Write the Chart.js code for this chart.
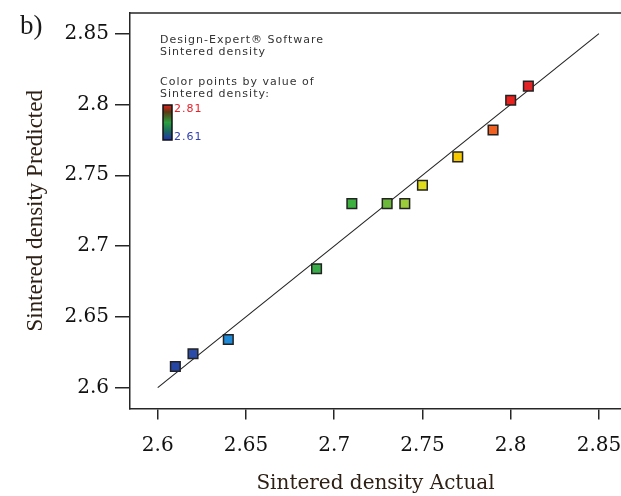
<!DOCTYPE html>
<html lang="en">
<head>
  <meta charset="UTF-8">
  <title>Sintered density - Predicted vs Actual</title>
  <script src="https://cdn.jsdelivr.net/npm/chart.js"></script>
  <style>
    html, body { margin: 0; padding: 0; background: #fff; }
    #wrap { width: 621px; height: 496px; position: relative; }
  </style>
</head>
<body>
  <div id="wrap"><canvas id="predChart"></canvas></div>

  <script>
    // data
    const actual    = [2.61, 2.62, 2.64, 2.69, 2.71, 2.73, 2.74, 2.75, 2.77, 2.79, 2.80, 2.81];
    const predicted = [2.615, 2.624, 2.634, 2.684, 2.730, 2.730, 2.730, 2.743, 2.763, 2.782, 2.803, 2.813];
    const pointColors = ['#2646a6', '#2a4ca8', '#1e8ad8', '#3aad4a', '#3db040', '#6cb83a',
                         '#9ccc3a', '#e0dc1c', '#f5c800', '#f06020', '#e8201e', '#e02428'];
    const fitLine = [2.6, 2.85];
    const xTicks = [2.6, 2.65, 2.7, 2.75, 2.8, 2.85];
    const yTicks = [2.6, 2.65, 2.7, 2.75, 2.8, 2.85];
    const legendLines = ['Design-Expert\u00AE Software', 'Sintered density', 'Color points by value of', 'Sintered density:'];
    const colorRange = [2.81, 2.61];

    const tickFont = { family: '"DejaVu Serif"', size: 20 };
    const axisColor = '#262626';

    // top frame line, "b)" label and the Design-Expert colour legend
    const decorPlugin = {
      id: 'decor',
      afterDraw(chart) {
        const { ctx, chartArea: a } = chart;
        ctx.save();
        ctx.strokeStyle = axisColor;
        ctx.lineWidth = 1.5;
        ctx.beginPath();
        ctx.moveTo(a.left, a.top);
        ctx.lineTo(a.right + 2, a.top);
        ctx.stroke();

        ctx.fillStyle = '#1a1a1a';
        ctx.font = '27px "Liberation Serif"';
        ctx.textBaseline = 'alphabetic';
        ctx.fillText('b)', 20, 34);

        ctx.font = '11px "DejaVu Sans"';
        ctx.letterSpacing = '1px';
        ctx.fillStyle = '#333';
        const lineY = [43, 55, 85, 97];
        legendLines.forEach((t, i) => ctx.fillText(t, 160, lineY[i]));

        // colour bar
        const bx = 163, by = 105, bw = 9, bh = 35;
        const g = ctx.createLinearGradient(0, by, 0, by + bh);
        g.addColorStop(0, '#e8201e');
        g.addColorStop(0.2, '#5a3a14');
        g.addColorStop(0.5, '#2aa040');
        g.addColorStop(0.75, '#1a6a60');
        g.addColorStop(1, '#2030b0');
        ctx.fillStyle = g;
        ctx.fillRect(bx, by, bw, bh);
        ctx.strokeStyle = '#111';
        ctx.lineWidth = 1.5;
        ctx.strokeRect(bx, by, bw, bh);

        ctx.fillStyle = '#e8202a';
        ctx.fillText(colorRange[0].toFixed(2), 174, 112);
        ctx.fillStyle = '#3040b0';
        ctx.fillText(colorRange[1].toFixed(2), 174, 140);
        ctx.restore();
      }
    };

    const ctx = document.getElementById('predChart').getContext('2d');
    new Chart(ctx, {
      type: 'scatter',
      data: {
        datasets: [
          {
            label: 'Sintered density',
            data: actual.map((x, i) => ({ x: x, y: predicted[i] })),
            pointStyle: 'rect',
            pointRadius: 6.8,
            pointHoverRadius: 6.8,
            pointBackgroundColor: pointColors,
            pointBorderColor: '#222',
            pointBorderWidth: 1.5,
            order: 0
          },
          {
            label: 'fit',
            type: 'line',
            data: fitLine.map(v => ({ x: v, y: v })),
            borderColor: '#222',
            borderWidth: 1.1,
            pointRadius: 0,
            fill: false,
            order: 1
          }
        ]
      },
      options: {
        responsive: true,
        maintainAspectRatio: false,
        animation: false,
        layout: { autoPadding: false, padding: { top: 13, right: 0, left: 0, bottom: 0 } },
        plugins: {
          legend: { display: false },
          tooltip: { enabled: false }
        },
        scales: {
          x: {
            type: 'linear',
            min: 2.5843,
            max: 2.8625,
            afterBuildTicks: s => { s.ticks = xTicks.map(v => ({ value: v })); },
            afterFit: s => { s.height = 87.5; s.paddingLeft = 0; s.paddingRight = 0; },
            ticks: {
              font: tickFont,
              color: '#111',
              padding: 14,
              maxRotation: 0,
              callback: v => String(+v.toFixed(2))
            },
            grid: { drawOnChartArea: false, drawTicks: true, tickLength: 11, color: axisColor, lineWidth: 1.5 },
            border: { display: true, color: axisColor, width: 1.5 },
            title: {
              display: true,
              text: 'Sintered density Actual',
              font: { family: '"DejaVu Serif"', size: 20 },
              color: '#2e2014',
              padding: { top: 0, bottom: 0 }
            }
          },
          y: {
            type: 'linear',
            min: 2.5853,
            max: 2.8646,
            afterBuildTicks: s => { s.ticks = yTicks.map(v => ({ value: v })); },
            afterFit: s => { s.width = 130; s.paddingTop = 0; s.paddingBottom = 0; },
            ticks: {
              font: tickFont,
              color: '#111',
              padding: 6,
              callback: v => String(+v.toFixed(2))
            },
            grid: { drawOnChartArea: false, drawTicks: true, tickLength: 15, color: axisColor, lineWidth: 1.5 },
            border: { display: true, color: axisColor, width: 1.5 },
            title: {
              display: true,
              text: 'Sintered density Predicted',
              font: { family: '"Liberation Serif"', size: 23 },
              color: '#2e2014',
              padding: { top: 22, bottom: 0 }
            }
          }
        }
      },
      plugins: [decorPlugin]
    });
  </script>
</body>
</html>
